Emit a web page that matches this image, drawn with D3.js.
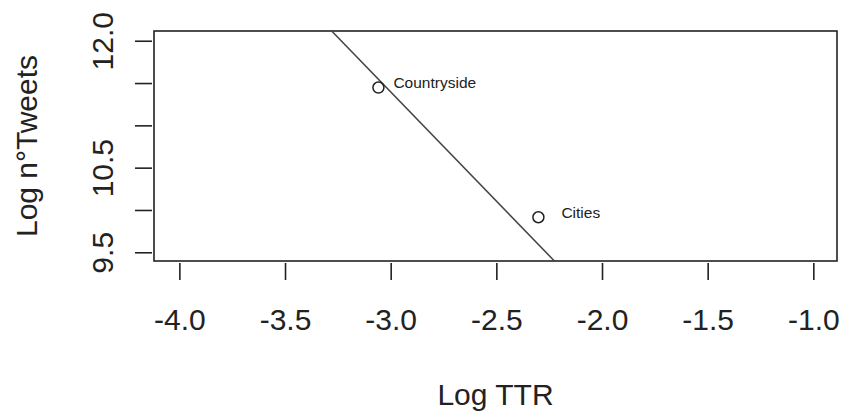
<!DOCTYPE html>
<html>
<head>
<meta charset="utf-8">
<script src="https://cdn.jsdelivr.net/npm/d3@7"></script>
<style>
  html, body { margin: 0; padding: 0; background: #fff; }
  svg { display: block; }
  text { font-family: "Liberation Sans", Arial, sans-serif; fill: #222; }
</style>
</head>
<body>
<svg id="chart" width="841" height="414"></svg>
<script>
// ---- data ----
const pointNames = ["Countryside", "Cities"];
const logTTR = [-3.058, -2.301];
const logTweets = [11.447, 9.914];
const fitIntercept = 3.658;
const fitSlope = -2.579;
const xTicks = [-4.0, -3.5, -3.0, -2.5, -2.0, -1.5, -1.0];
const yTicks = [9.5, 10.0, 10.5, 11.0, 11.5, 12.0];
const yTickLabels = ["9.5", "", "10.5", "", "", "12.0"];
const xTitle = "Log TTR";
const yTitle = "Log n°Tweets";

// ---- layout ----
const plot = { left: 154, right: 837, top: 31, bottom: 261 };
const svg = d3.select("#chart");

const x = d3.scaleLinear().domain([-4.12, -0.888]).range([plot.left, plot.right]);
const y = d3.scaleLinear().domain([9.397, 12.115]).range([plot.bottom, plot.top]);

const tickLen = 19;
const ink = "#222";

// clip
svg.append("defs").append("clipPath").attr("id", "clip")
  .append("rect")
  .attr("x", plot.left).attr("y", plot.top)
  .attr("width", plot.right - plot.left).attr("height", plot.bottom - plot.top);

// x axis
const xAxis = svg.append("g")
  .attr("transform", `translate(0,${plot.bottom})`)
  .call(d3.axisBottom(x).tickValues(xTicks).tickSize(tickLen).tickPadding(0)
    .tickFormat(d3.format(".1f")));
xAxis.select(".domain").remove();
xAxis.selectAll(".tick line").attr("stroke", ink).attr("stroke-width", 1.6)
  .attr("y1", 2);
xAxis.selectAll(".tick text")
  .attr("y", 69).attr("dy", null)
  .attr("font-size", 30).attr("fill", "#2a2a2a")
  .text(d => d3.format(".1f")(d).replace("−", "-"));

// y axis
const yAxis = svg.append("g")
  .attr("transform", `translate(${plot.left},0)`)
  .call(d3.axisLeft(y).tickValues(yTicks).tickSize(tickLen).tickPadding(0)
    .tickFormat((d, i) => yTickLabels[i]));
yAxis.select(".domain").remove();
yAxis.selectAll(".tick line").attr("stroke", ink).attr("stroke-width", 1.6)
  .attr("x1", -2);
yAxis.selectAll(".tick text")
  .attr("x", 0).attr("y", -41).attr("dy", null)
  .attr("text-anchor", "middle")
  .attr("transform", "rotate(-90)")
  .attr("font-size", 30).attr("fill", "#2a2a2a");

// frame
svg.append("rect")
  .attr("x", plot.left).attr("y", plot.top)
  .attr("width", plot.right - plot.left).attr("height", plot.bottom - plot.top)
  .attr("fill", "none").attr("stroke", ink).attr("stroke-width", 1.6);

// fitted line
const xd = x.domain();
svg.append("line")
  .attr("clip-path", "url(#clip)")
  .attr("x1", x(xd[0])).attr("y1", y(fitIntercept + fitSlope * xd[0]))
  .attr("x2", x(xd[1])).attr("y2", y(fitIntercept + fitSlope * xd[1]))
  .attr("stroke", "#444").attr("stroke-width", 1.5);

// points
const pts = pointNames.map((n, i) => ({ name: n, x: logTTR[i], y: logTweets[i] }));
svg.selectAll("circle.pt").data(pts).enter().append("circle")
  .attr("class", "pt")
  .attr("cx", d => x(d.x)).attr("cy", d => y(d.y)).attr("r", 5.5)
  .attr("fill", "none").attr("stroke", ink).attr("stroke-width", 1.5);

const labelNudge = { "Countryside": 15, "Cities": 23 };
svg.selectAll("text.lbl").data(pts).enter().append("text")
  .attr("class", "lbl")
  .attr("x", d => x(d.x) + labelNudge[d.name])
  .attr("y", d => y(d.y) + 0.5)
  .attr("font-size", 15.5)
  .attr("fill", "#222")
  .text(d => d.name);

// titles
svg.append("text")
  .attr("x", (plot.left + plot.right) / 2).attr("y", 405)
  .attr("text-anchor", "middle").attr("font-size", 30).attr("fill", "#2a2a2a")
  .text(xTitle);
svg.append("text")
  .attr("transform", `translate(37,${(plot.top + plot.bottom) / 2}) rotate(-90)`)
  .attr("text-anchor", "middle").attr("font-size", 30).attr("fill", "#2a2a2a")
  .text(yTitle);
</script>
</body>
</html>
